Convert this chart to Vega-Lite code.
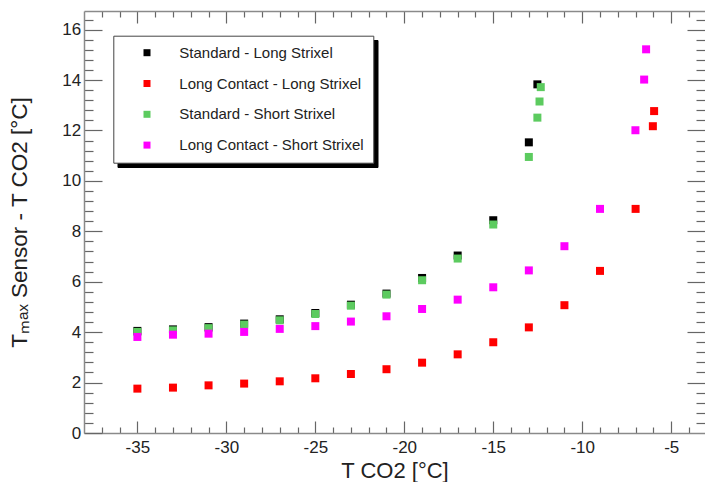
{
  "$schema": "https://vega.github.io/schema/vega-lite/v6.json",
  "width": 621,
  "height": 422,
  "autosize": {"type": "none"},
  "padding": {"left": 84, "top": 11, "right": 0, "bottom": 49},
  "config": {
    "view": {"stroke": null},
    "font": "Liberation Sans"
  },
  "data": {
    "values": [
      {"series": "Standard - Long Strixel", "t": -35, "dt": 4.05},
      {"series": "Standard - Long Strixel", "t": -33, "dt": 4.11},
      {"series": "Standard - Long Strixel", "t": -31, "dt": 4.2},
      {"series": "Standard - Long Strixel", "t": -29, "dt": 4.34},
      {"series": "Standard - Long Strixel", "t": -27, "dt": 4.51},
      {"series": "Standard - Long Strixel", "t": -25, "dt": 4.76},
      {"series": "Standard - Long Strixel", "t": -23, "dt": 5.09},
      {"series": "Standard - Long Strixel", "t": -21, "dt": 5.53},
      {"series": "Standard - Long Strixel", "t": -19, "dt": 6.15},
      {"series": "Standard - Long Strixel", "t": -17, "dt": 7.04},
      {"series": "Standard - Long Strixel", "t": -15, "dt": 8.44},
      {"series": "Standard - Long Strixel", "t": -13, "dt": 11.53},
      {"series": "Standard - Long Strixel", "t": -12.52, "dt": 13.83},

      {"series": "Long Contact - Long Strixel", "t": -35, "dt": 1.76},
      {"series": "Long Contact - Long Strixel", "t": -33, "dt": 1.8},
      {"series": "Long Contact - Long Strixel", "t": -31, "dt": 1.89},
      {"series": "Long Contact - Long Strixel", "t": -29, "dt": 1.96},
      {"series": "Long Contact - Long Strixel", "t": -27, "dt": 2.05},
      {"series": "Long Contact - Long Strixel", "t": -25, "dt": 2.17},
      {"series": "Long Contact - Long Strixel", "t": -23, "dt": 2.34},
      {"series": "Long Contact - Long Strixel", "t": -21, "dt": 2.53},
      {"series": "Long Contact - Long Strixel", "t": -19, "dt": 2.79},
      {"series": "Long Contact - Long Strixel", "t": -17, "dt": 3.12},
      {"series": "Long Contact - Long Strixel", "t": -15, "dt": 3.6},
      {"series": "Long Contact - Long Strixel", "t": -13, "dt": 4.19},
      {"series": "Long Contact - Long Strixel", "t": -11, "dt": 5.07},
      {"series": "Long Contact - Long Strixel", "t": -9, "dt": 6.43},
      {"series": "Long Contact - Long Strixel", "t": -7, "dt": 8.89},
      {"series": "Long Contact - Long Strixel", "t": -6.03, "dt": 12.17},
      {"series": "Long Contact - Long Strixel", "t": -5.96, "dt": 12.77},

      {"series": "Standard - Short Strixel", "t": -35, "dt": 4.01},
      {"series": "Standard - Short Strixel", "t": -33, "dt": 4.07},
      {"series": "Standard - Short Strixel", "t": -31, "dt": 4.16},
      {"series": "Standard - Short Strixel", "t": -29, "dt": 4.3},
      {"series": "Standard - Short Strixel", "t": -27, "dt": 4.47},
      {"series": "Standard - Short Strixel", "t": -25, "dt": 4.72},
      {"series": "Standard - Short Strixel", "t": -23, "dt": 5.05},
      {"series": "Standard - Short Strixel", "t": -21, "dt": 5.49},
      {"series": "Standard - Short Strixel", "t": -19, "dt": 6.06},
      {"series": "Standard - Short Strixel", "t": -17, "dt": 6.92},
      {"series": "Standard - Short Strixel", "t": -15, "dt": 8.27},
      {"series": "Standard - Short Strixel", "t": -13, "dt": 10.95},
      {"series": "Standard - Short Strixel", "t": -12.52, "dt": 12.51},
      {"series": "Standard - Short Strixel", "t": -12.4, "dt": 13.15},
      {"series": "Standard - Short Strixel", "t": -12.33, "dt": 13.72},

      {"series": "Long Contact - Short Strixel", "t": -35, "dt": 3.81},
      {"series": "Long Contact - Short Strixel", "t": -33, "dt": 3.9},
      {"series": "Long Contact - Short Strixel", "t": -31, "dt": 3.94},
      {"series": "Long Contact - Short Strixel", "t": -29, "dt": 4.01},
      {"series": "Long Contact - Short Strixel", "t": -27, "dt": 4.13},
      {"series": "Long Contact - Short Strixel", "t": -25, "dt": 4.24},
      {"series": "Long Contact - Short Strixel", "t": -23, "dt": 4.42},
      {"series": "Long Contact - Short Strixel", "t": -21, "dt": 4.63},
      {"series": "Long Contact - Short Strixel", "t": -19, "dt": 4.92},
      {"series": "Long Contact - Short Strixel", "t": -17, "dt": 5.29},
      {"series": "Long Contact - Short Strixel", "t": -15, "dt": 5.78},
      {"series": "Long Contact - Short Strixel", "t": -13, "dt": 6.45},
      {"series": "Long Contact - Short Strixel", "t": -11, "dt": 7.41},
      {"series": "Long Contact - Short Strixel", "t": -9, "dt": 8.89},
      {"series": "Long Contact - Short Strixel", "t": -7.01, "dt": 12.01},
      {"series": "Long Contact - Short Strixel", "t": -6.52, "dt": 14.02},
      {"series": "Long Contact - Short Strixel", "t": -6.41, "dt": 15.22}
    ]
  },
  "layer": [
    {
      "mark": {"type": "point", "shape": "square", "filled": true, "opacity": 0},
      "encoding": {
        "x": {
          "field": "t", "type": "quantitative",
          "scale": {"domain": [-38, -3.1], "nice": false, "zero": false},
          "axis": {
            "orient": "top", "title": null, "labels": false, "domain": true,
            "domainColor": "#8a8a8a", "domainWidth": 1.5,
            "tickColor": "#666", "tickWidth": 1.2,
            "values": [-37,-36,-35,-34,-33,-32,-31,-30,-29,-28,-27,-26,-25,-24,-23,-22,-21,-20,-19,-18,-17,-16,-15,-14,-13,-12,-11,-10,-9,-8,-7,-6,-5,-4],
            "tickSize": {"condition": {"test": "datum.value % 5 === 0", "value": -12}, "value": -6},
            "grid": false
          }
        },
        "y": {
          "field": "dt", "type": "quantitative",
          "scale": {"domain": [0, 16.74], "nice": false},
          "axis": {
            "orient": "right", "title": null, "labels": false, "domain": false,
            "tickColor": "#666", "tickWidth": 1.2,
            "values": [0.4,0.8,1.2,1.6,2,2.4,2.8,3.2,3.6,4,4.4,4.8,5.2,5.6,6,6.4,6.8,7.2,7.6,8,8.4,8.8,9.2,9.6,10,10.4,10.8,11.2,11.6,12,12.4,12.8,13.2,13.6,14,14.4,14.8,15.2,15.6,16,16.4],
            "tickSize": {"condition": {"test": "datum.value % 2 === 0", "value": -18}, "value": -9},
            "grid": false
          }
        },
        "color": {
          "field": "series", "type": "nominal",
          "scale": {
            "domain": ["Standard - Long Strixel", "Long Contact - Long Strixel", "Standard - Short Strixel", "Long Contact - Short Strixel"],
            "range": ["#000000", "#ff0000", "#5ccb5f", "#ff00ff"]
          },
          "legend": {
            "title": null, "orient": "none", "legendX": 33.5, "legendY": 29,
            "zindex": 1,
            "fillColor": "#000000", "strokeColor": "#000000",
            "padding": 9.5, "rowPadding": 12.05,
            "symbolType": "square", "symbolSize": 275, "symbolOffset": 16.7, "symbolOpacity": 0,
            "labelExpr": "''",
            "labelOffset": 205, "labelFontSize": 15
          }
        }
      }
    },
    {
      "mark": {"type": "point", "shape": "square", "filled": true, "size": 64, "opacity": 1},
      "encoding": {
        "x": {
          "field": "t", "type": "quantitative",
          "axis": {
            "orient": "bottom", "title": "T CO2 [°C]", "grid": false,
            "domainColor": "#8a8a8a", "domainWidth": 1.5,
            "tickColor": "#666", "tickWidth": 1.2,
            "values": [-37,-36,-35,-34,-33,-32,-31,-30,-29,-28,-27,-26,-25,-24,-23,-22,-21,-20,-19,-18,-17,-16,-15,-14,-13,-12,-11,-10,-9,-8,-7,-6,-5,-4],
            "tickSize": {"condition": {"test": "datum.value % 5 === 0", "value": -12}, "value": -6},
            "labelPadding": 18,
            "labelExpr": "datum.value % 5 === 0 ? '' + datum.value : ''",
            "labelFont": "Liberation Sans", "labelFontSize": 17, "labelColor": "#222",
            "labelFlush": false, "labelOverlap": false,
            "titleFont": "Liberation Sans", "titleFontSize": 22, "titleFontWeight": "normal", "titleColor": "#222",
            "titleBaseline": "alphabetic", "titleY": 44.5
          }
        },
        "y": {
          "field": "dt", "type": "quantitative",
          "axis": {
            "orient": "left", "title": "Tₘₐₓ Sensor - T CO2 [°C]", "grid": false,
            "domainColor": "#8a8a8a", "domainWidth": 1.5,
            "tickColor": "#666", "tickWidth": 1.2,
            "values": [0,0.4,0.8,1.2,1.6,2,2.4,2.8,3.2,3.6,4,4.4,4.8,5.2,5.6,6,6.4,6.8,7.2,7.6,8,8.4,8.8,9.2,9.6,10,10.4,10.8,11.2,11.6,12,12.4,12.8,13.2,13.6,14,14.4,14.8,15.2,15.6,16,16.4],
            "tickSize": {"condition": {"test": "datum.value % 2 === 0", "value": -18}, "value": -9},
            "labelPadding": 21.3,
            "labelExpr": "datum.value % 2 === 0 ? '' + datum.value : ''",
            "labelFont": "Liberation Sans", "labelFontSize": 17, "labelColor": "#222",
            "labelFlush": false, "labelOverlap": false,
            "titleFont": "Liberation Sans", "titleFontSize": 22.5, "titleFontWeight": "normal", "titleColor": "#222",
            "titleBaseline": "alphabetic", "titleX": -57.3
          }
        },
        "color": {
          "field": "series", "type": "nominal",
          "scale": {
            "domain": ["Standard - Long Strixel", "Long Contact - Long Strixel", "Standard - Short Strixel", "Long Contact - Short Strixel"],
            "range": ["#000000", "#ff0000", "#5ccb5f", "#ff00ff"]
          },
          "legend": {
            "title": null, "orient": "none", "legendX": 29.3, "legendY": 24.7,
            "zindex": 2,
            "fillColor": "#ffffff", "strokeColor": "#444444",
            "padding": 9.5, "rowPadding": 14.8,
            "symbolType": "square", "symbolSize": 49, "symbolOffset": 16.7, "symbolStrokeWidth": 0,
            "labelOffset": 24.8, "labelFont": "Liberation Sans", "labelFontSize": 15, "labelColor": "#222", "labelLimit": 400
          }
        }
      }
    }
  ],
  "resolve": {
    "axis": {"x": "independent", "y": "independent"},
    "scale": {"color": "independent"},
    "legend": {"color": "independent"}
  }
}
